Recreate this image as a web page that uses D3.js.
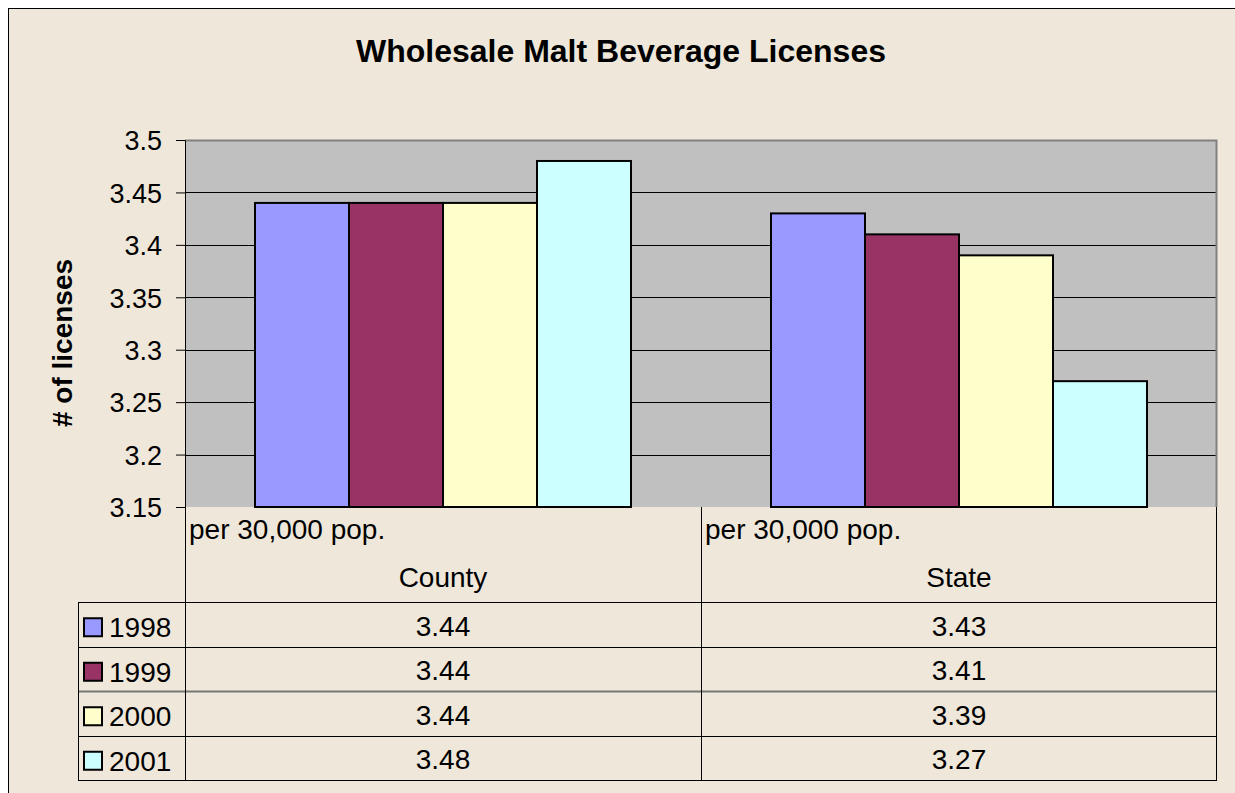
<!DOCTYPE html>
<html>
<head>
<meta charset="utf-8">
<script src="https://cdn.jsdelivr.net/npm/d3@7"></script>
<style>
  body { margin: 0; background: #fff; }
  svg { display: block; font-family: Arial, "Liberation Sans", sans-serif; }
</style>
</head>
<body>
<svg id="chart" width="1235" height="793"></svg>
<script>
const categories = ['County', 'State'];
const catSubLabel = 'per 30,000 pop.';
const years = ['1998', '1999', '2000', '2001'];
const county = [3.44, 3.44, 3.44, 3.48];
const state = [3.43, 3.41, 3.39, 3.27];
const yTicks = [3.15, 3.2, 3.25, 3.3, 3.35, 3.4, 3.45, 3.5];
const colors = ['#9999ff', '#993366', '#ffffcc', '#ccffff'];

const values = [county, state];

const svg = d3.select('#chart');
const W = 1235, H = 793;
const plot = { left: 185, right: 1217, top: 140, bottom: 507 };
const FS = 28;

// background + frame
svg.append('rect').attr('x', 0).attr('y', 0).attr('width', W).attr('height', H).attr('fill', '#fff');
svg.append('rect').attr('x', 8.5).attr('y', 8.5).attr('width', W + 10).attr('height', H + 10)
    .attr('fill', '#efe8da').attr('stroke', '#000').attr('stroke-width', 1);

svg.append('text').attr('x', 621).attr('y', 62).attr('text-anchor', 'middle')
    .attr('font-size', 32).attr('font-weight', 'bold').text('Wholesale Malt Beverage Licenses');

const y = d3.scaleLinear().domain([3.15, 3.5]).range([plot.bottom, plot.top]);
const x0 = d3.scaleBand().domain(categories).range([plot.left, plot.right]);
const x1 = d3.scaleBand().domain(years).range([70, x0.bandwidth() - 70]);

// plot area
svg.append('rect').attr('x', plot.left).attr('y', plot.top)
    .attr('width', plot.right - plot.left).attr('height', plot.bottom - plot.top)
    .attr('fill', '#c0c0c0');

// gridlines
svg.append('g').selectAll('line').data(yTicks.filter(t => t > 3.15 && t < 3.5)).enter()
    .append('line')
    .attr('x1', plot.left).attr('x2', plot.right)
    .attr('y1', d => Math.round(y(d)) + 0.5).attr('y2', d => Math.round(y(d)) + 0.5)
    .attr('stroke', '#000').attr('stroke-width', 1);

// top / right border of plot area
svg.append('path')
    .attr('d', `M${plot.left},${plot.top + 0.5}H${plot.right - 0.5}V${plot.bottom}`)
    .attr('fill', 'none').attr('stroke', '#808080').attr('stroke-width', 2);

// bars
const groups = svg.append('g').selectAll('g').data(categories).enter()
    .append('g').attr('transform', d => `translate(${x0(d)},0)`);
groups.selectAll('rect').data((d, i) => values[i].map((v, j) => ({ v, j }))).enter()
    .append('rect')
    .attr('x', d => x1(years[d.j]))
    .attr('y', d => y(d.v))
    .attr('width', x1.bandwidth())
    .attr('height', d => y(3.15) - y(d.v))
    .attr('fill', d => colors[d.j])
    .attr('stroke', '#000').attr('stroke-width', 2);

// y axis
const yAxis = d3.axisLeft(y).tickValues(yTicks).tickSize(9).tickPadding(14)
    .tickFormat(d => String(+d.toFixed(2)));
const ya = svg.append('g').attr('transform', `translate(${plot.left},0)`).call(yAxis);
ya.select('.domain').attr('stroke', '#000').attr('stroke-width', 1);
ya.selectAll('.tick line').attr('stroke', '#000');
ya.selectAll('.tick text').attr('font-size', 27).attr('fill', '#000').attr('dy', '0.36em')
    .attr('font-family', 'Arial, "Liberation Sans", sans-serif');

svg.append('text')
    .attr('transform', `translate(72,343) rotate(-90)`)
    .attr('text-anchor', 'middle').attr('font-size', FS).attr('font-weight', 'bold')
    .text('# of licenses');

// data table
const rowTop = 602, rowH = 44.5, legLeft = 78;
const tbl = svg.append('g');
const rowYs = d3.range(years.length + 1).map(i => rowTop + i * rowH);

tbl.selectAll('line.h').data(rowYs).enter().append('line')
    .attr('x1', legLeft).attr('x2', plot.right)
    .attr('y1', d => Math.round(d) + 0.5).attr('y2', d => Math.round(d) + 0.5)
    .attr('stroke', (d, i) => i === 2 ? '#777' : '#000').attr('stroke-width', (d, i) => i === 2 ? 2 : 1);

const vLines = [
  { x: legLeft, y1: rowTop, y2: rowYs[years.length] },
  { x: plot.left, y1: plot.bottom, y2: rowYs[years.length] },
  { x: x0('State'), y1: plot.bottom, y2: rowYs[years.length] },
  { x: plot.right - 1, y1: plot.bottom, y2: rowYs[years.length] }
];
tbl.selectAll('line.v').data(vLines).enter().append('line')
    .attr('x1', d => d.x + 0.5).attr('x2', d => d.x + 0.5)
    .attr('y1', d => d.y1).attr('y2', d => d.y2)
    .attr('stroke', '#000').attr('stroke-width', 1);

categories.forEach(c => {
  tbl.append('text').attr('x', x0(c) + 4).attr('y', 539).attr('font-size', FS).text(catSubLabel);
  tbl.append('text').attr('x', x0(c) + x0.bandwidth() / 2).attr('y', 587)
      .attr('text-anchor', 'middle').attr('font-size', FS).text(c);
});

years.forEach((yr, j) => {
  const cy = rowTop + j * rowH + rowH / 2;
  tbl.append('rect').attr('x', 84).attr('y', cy - 6).attr('width', 18).attr('height', 18)
      .attr('fill', colors[j]).attr('stroke', '#000').attr('stroke-width', 2);
  tbl.append('text').attr('x', 109).attr('y', cy + 13).attr('font-size', FS).text(yr);
  categories.forEach((c, i) => {
    tbl.append('text').attr('x', x0(c) + x0.bandwidth() / 2).attr('y', cy + 11.5)
        .attr('text-anchor', 'middle').attr('font-size', FS).text(values[i][j].toFixed(2));
  });
});
</script>
</body>
</html>
